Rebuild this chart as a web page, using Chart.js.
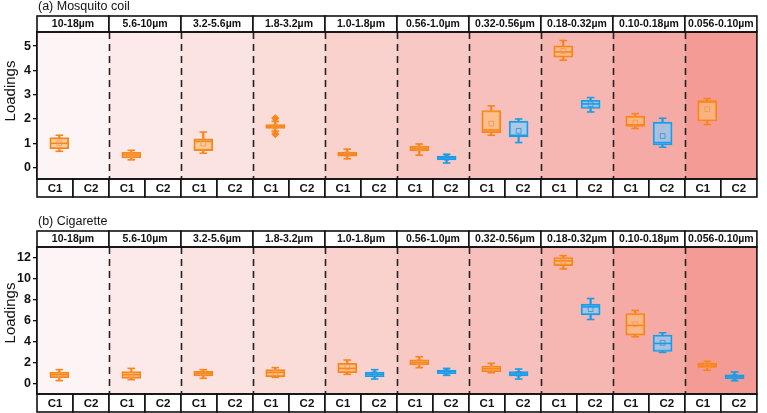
<!DOCTYPE html>
<html><head><meta charset="utf-8">
<script src="https://cdn.jsdelivr.net/npm/chart.js@4.4.1/dist/chart.umd.min.js"></script>
<style>
html,body{margin:0;padding:0;background:#fff;}
canvas{position:absolute;left:0;}
#cA{top:0;} #cB{top:200px;}
</style></head>
<body>
<canvas id="cA" width="767" height="200"></canvas>
<canvas id="cB" width="767" height="213"></canvas>
<script>
// size fractions (facet strip labels)
const facets = ['10-18µm','5.6-10µm','3.2-5.6µm','1.8-3.2µm','1.0-1.8µm','0.56-1.0µm','0.32-0.56µm','0.18-0.32µm','0.10-0.18µm','0.056-0.10µm'];
const components = ['C1','C2'];
// each entry: [min, q1, median, q3, max, mean]  (null = no box)
const coilC1 = [
  [0.67,0.77,1.00,1.23,1.33,1.00],
  [0.32,0.40,0.52,0.63,0.71,0.51],
  [0.59,0.70,1.08,1.18,1.46,0.99],
  [1.50,1.61,1.69,1.77,1.90,1.69],
  [0.36,0.47,0.55,0.63,0.76,0.55],
  [0.51,0.69,0.78,0.88,0.97,0.79],
  [1.33,1.44,1.55,2.35,2.54,1.81],
  [4.42,4.54,4.76,5.01,5.23,4.80],
  [1.61,1.69,1.76,2.11,2.22,1.85],
  [1.77,1.92,2.70,2.76,2.84,2.40]
];
const coilC2 = [null,null,null,null,null,
  [0.19,0.32,0.40,0.47,0.55,0.40],
  [1.03,1.26,1.33,1.91,2.00,1.51],
  [2.29,2.43,2.62,2.77,2.88,2.61],
  [0.84,0.93,1.03,1.87,2.03,1.30],
  null
];
const coilOutliersC1 = [[3,2.03],[3,1.38]]; // [facet index, value]
const cigC1 = [
  [0.32,0.60,0.88,1.14,1.36,0.88],
  [0.41,0.54,0.88,1.17,1.48,0.86],
  [0.54,0.76,1.01,1.20,1.36,0.99],
  [0.63,0.69,1.10,1.36,1.55,1.05],
  [0.92,1.07,1.48,1.96,2.27,1.62],
  [1.55,1.83,2.05,2.30,2.59,2.07],
  [1.07,1.17,1.45,1.70,1.96,1.45],
  [10.92,11.24,11.68,12.00,12.18,11.62],
  [4.48,4.64,5.56,6.69,6.98,5.68],
  [1.30,1.58,1.80,1.99,2.15,1.79]
];
const cigC2 = [null,null,null,null,
  [0.47,0.69,0.92,1.14,1.36,0.92],
  [0.82,0.98,1.17,1.33,1.48,1.16],
  [0.47,0.76,0.95,1.17,1.42,0.96],
  [6.12,6.56,7.32,7.58,8.11,7.10],
  [3.00,3.09,3.85,4.64,4.86,3.91],
  [0.31,0.50,0.69,0.88,1.14,0.69]
];
const coilTicks = [0,1,2,3,4,5];
const cigTicks = [0,2,4,6,8,10,12];

const bgColors = ['#fdf4f6','#fceaea','#fbe3e1','#fadcd9','#f9d2ce','#f8c8c4','#f8c0bc','#f6b6b1','#f5aaa5','#f39b94'];
const ORANGE = '#f9851a', ORANGE_FILL = 'rgba(255,190,120,0.65)', ORANGE_MEAN='rgba(240,150,70,0.8)';
const BLUE = '#1a9de8', BLUE_FILL = 'rgba(130,205,250,0.65)', BLUE_MEAN='rgba(40,150,220,0.8)';
const FONT = "Arial, 'Liberation Sans', sans-serif";
const POS = [0.31, 0.69];

function buildDatasets(c1, c2, outliers){
  const ds = [];
  [[c1,0,ORANGE,ORANGE_FILL,ORANGE_MEAN],[c2,1,BLUE,BLUE_FILL,BLUE_MEAN]].forEach(([arr,k,col,fill,mc])=>{
    const items = arr.map((v,i)=>v?{i, v}:null).filter(Boolean);
    const xs = it => it.i + POS[k];
    ds.push({type:'bar', data: items.map(it=>({x:xs(it), y:[it.v[0], it.v[1]]})), backgroundColor:col, borderWidth:0, barThickness:1.6, grouped:false, order:6});
    ds.push({type:'bar', data: items.map(it=>({x:xs(it), y:[it.v[3], it.v[4]]})), backgroundColor:col, borderWidth:0, barThickness:1.6, grouped:false, order:6});
    ds.push({type:'bar', data: items.map(it=>({x:xs(it), y:[it.v[1], it.v[3]]})), backgroundColor:fill, borderColor:col, borderWidth:1.6, borderSkipped:false, barThickness:19, grouped:false, order:5});
    ds.push({type:'line', showLine:false, data: items.map(it=>({x:xs(it), y:it.v[2]})), pointStyle:'line', pointRadius:8.5, borderColor:col, pointBorderWidth:1.6, order:3});
    ds.push({type:'line', showLine:false, data: items.flatMap(it=>[{x:xs(it), y:it.v[0]},{x:xs(it), y:it.v[4]}]), pointStyle:'line', pointRadius:3.8, borderColor:col, pointBorderWidth:1.6, order:3});
    ds.push({type:'line', showLine:false, data: items.map(it=>({x:xs(it), y:it.v[5]})), pointStyle:'rect', pointRadius:3.4, borderColor:mc, backgroundColor:'rgba(0,0,0,0)', pointBorderWidth:1, order:2});
  });
  if (outliers) {
    ds.push({type:'line', showLine:false, data: outliers.map(o=>({x:o[0]+POS[0], y:o[1]})), pointStyle:'rectRot', pointRadius:3.6, borderColor:ORANGE, backgroundColor:ORANGE, pointBorderWidth:1, order:1});
  }
  return ds;
}

function panelPlugin(title, hTop, stripBottom, labelY){
  return {
    id:'panel',
    beforeDatasetsDraw(chart){
      const ctx = chart.ctx, ca = chart.chartArea, xs = chart.scales.x;
      ctx.save();
      for (let i=0;i<facets.length;i++){
        const x0 = xs.getPixelForValue(i), x1 = xs.getPixelForValue(i+1);
        ctx.fillStyle = bgColors[i];
        ctx.fillRect(x0, ca.top, x1-x0, ca.bottom-ca.top);
      }
      ctx.strokeStyle = '#222'; ctx.lineWidth = 1.6; ctx.setLineDash([7,5]);
      for (let i=1;i<facets.length;i++){
        const x = Math.round(xs.getPixelForValue(i))+0.5;
        ctx.beginPath(); ctx.moveTo(x, ca.top); ctx.lineTo(x, ca.bottom); ctx.stroke();
      }
      ctx.restore();
    },
    afterDraw(chart){
      const ctx = chart.ctx, ca = chart.chartArea, xs = chart.scales.x;
      ctx.save();
      ctx.strokeStyle = '#111'; ctx.lineWidth = 1.6; ctx.setLineDash([]);
      for (let i=0;i<facets.length;i++){
        const x0 = xs.getPixelForValue(i), x1 = xs.getPixelForValue(i+1);
        ctx.fillStyle = '#fff';
        ctx.fillRect(x0, hTop, x1-x0, ca.top-hTop);
        ctx.strokeRect(x0, hTop, x1-x0, ca.top-hTop);
        ctx.fillStyle = '#111'; ctx.font = 'bold 10.5px '+FONT;
        ctx.textAlign = 'center'; ctx.textBaseline = 'middle';
        ctx.fillText(facets[i], (x0+x1)/2, (hTop+ca.top)/2+0.5);
        for (let k=0;k<2;k++){
          const a = xs.getPixelForValue(i+k*0.5), b = xs.getPixelForValue(i+k*0.5+0.5);
          ctx.fillStyle = '#fff';
          ctx.fillRect(a, ca.bottom, b-a, stripBottom-ca.bottom);
          ctx.strokeRect(a, ca.bottom, b-a, stripBottom-ca.bottom);
          ctx.fillStyle = '#111'; ctx.font = 'bold 11.5px '+FONT;
          ctx.fillText(components[k], (a+b)/2, (ca.bottom+stripBottom)/2+0.5);
        }
      }
      ctx.strokeRect(ca.left, ca.top, ca.right-ca.left, ca.bottom-ca.top);
      ctx.fillStyle = '#111'; ctx.font = '12.5px '+FONT; ctx.textAlign='left'; ctx.textBaseline='middle';
      ctx.fillText(title, 38, hTop-9);
      ctx.translate(11, labelY); ctx.rotate(-Math.PI/2);
      ctx.font = '15px '+FONT; ctx.textAlign='center'; ctx.textBaseline='middle';
      ctx.fillText('Loadings', 0, 0);
      ctx.restore();
    }
  };
}

function makeChart(id, c1, c2, outliers, yMin, yMax, ticks, title, pad, hTop, stripBottom, labelY){
  new Chart(document.getElementById(id), {
    type:'bar',
    data:{datasets: buildDatasets(c1, c2, outliers)},
    options:{
      responsive:false, animation:false, devicePixelRatio:1,
      layout:{padding:pad},
      plugins:{legend:{display:false}, tooltip:{enabled:false}},
      scales:{
        x:{type:'linear', min:0, max:facets.length, offset:false, display:false},
        y:{min:yMin, max:yMax,
           afterFit(s){ s.width = 37; },
           afterBuildTicks(s){ s.ticks = ticks.map(v=>({value:v})); },
           ticks:{font:{family:FONT, size:12.5, weight:'bold'}, color:'#111', padding:2},
           grid:{drawOnChartArea:false, drawTicks:true, tickLength:4, color:'#111', lineWidth:1.3},
           border:{display:true, color:'#111', width:1.6}
        }
      }
    },
    plugins:[panelPlugin(title, hTop, stripBottom, labelY)]
  });
}

makeChart('cA', coilC1, coilC2, coilOutliersC1, -0.47, 5.58, coilTicks, '(a) Mosquito coil', {top:32, bottom:21, left:0, right:1}, 16, 197, 91);
makeChart('cB', cigC1, cigC2, null, -0.95, 13.0, cigTicks, '(b) Cigarette', {top:47, bottom:19, left:0, right:1}, 31, 212, 113);
</script>
</body></html>
